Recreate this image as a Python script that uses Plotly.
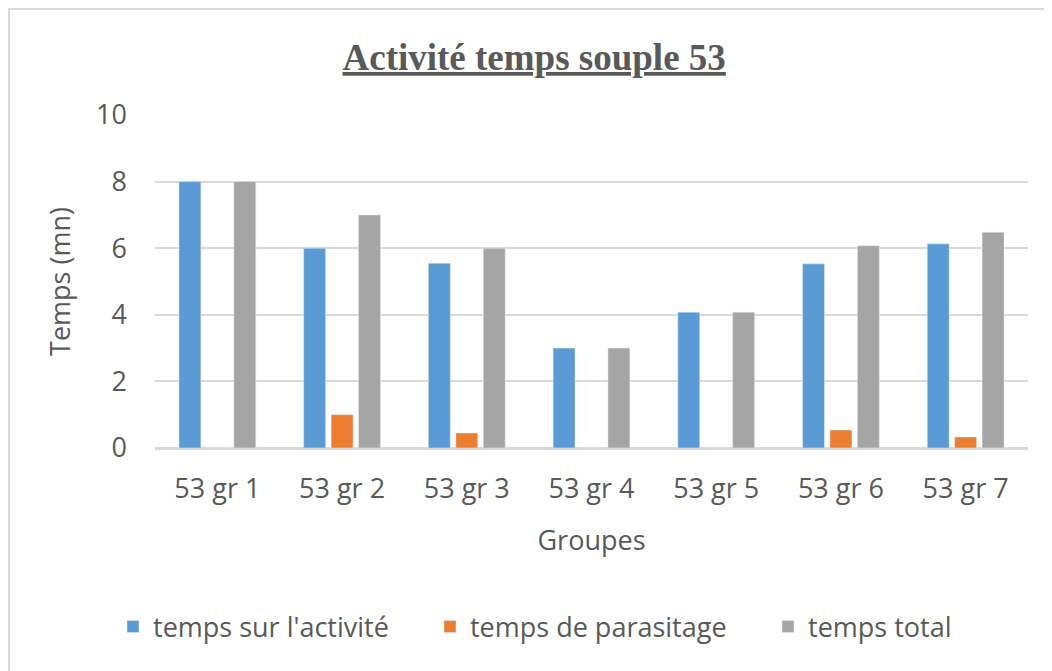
import plotly.graph_objects as go

# Données
groupes = ["53 gr 1", "53 gr 2", "53 gr 3", "53 gr 4", "53 gr 5", "53 gr 6", "53 gr 7"]
temps_activite = [8, 6, 5.55, 3, 4.08, 5.53, 6.13]
temps_parasitage = [0, 1, 0.45, 0, 0, 0.54, 0.33]
temps_total = [8, 7, 6, 3, 4.08, 6.07, 6.48]

GRIS_TEXTE = "#595959"
POLICE = "Open Sans"
TAILLE = 27

# la page ajoute une marge de 8 px autour de la figure : on compense
fig = go.Figure()
fig.add_trace(go.Bar(x=groupes, y=temps_activite, name="temps sur l'activité",
                     marker=dict(color="#5b9bd5"), legend="legend"))
fig.add_trace(go.Bar(x=groupes, y=temps_parasitage, name="temps de parasitage",
                     marker=dict(color="#ed7d31"), legend="legend2"))
fig.add_trace(go.Bar(x=groupes, y=temps_total, name="temps total",
                     marker=dict(color="#a5a5a5"), legend="legend3"))

# une légende par série pour placer chaque entrée comme dans l'original
style_legende = dict(orientation="h", xanchor="left", y=-0.5375, yanchor="middle",
                     font=dict(size=TAILLE, color=GRIS_TEXTE), itemwidth=30,
                     bgcolor="rgba(0,0,0,0)")

fig.update_layout(
    width=1044, height=663,
    paper_bgcolor="white", plot_bgcolor="white",
    margin=dict(l=147, r=24, t=107, b=223),
    barmode="group", bargap=0.34, bargroupgap=0.2,
    font=dict(family=POLICE, size=TAILLE, color=GRIS_TEXTE),
    title=dict(
        text="<b><span style='text-decoration:underline'>Activité temps souple 53</span></b>",
        x=0.504, xanchor="center", y=0.926, yanchor="middle",
        font=dict(family="Liberation Serif", size=37, color=GRIS_TEXTE),
    ),
    legend=dict(x=-0.0481, **style_legende),
    legend2=dict(x=0.3150, **style_legende),
    legend3=dict(x=0.7022, **style_legende),
    showlegend=True,
)

fig.update_xaxes(title=dict(text="Groupes", font=dict(size=TAILLE), standoff=26),
                 showgrid=False, showline=True, linecolor="#d9d9d9", linewidth=1.5,
                 ticks="", ticklabelstandoff=16, tickfont=dict(size=TAILLE))
fig.update_yaxes(title=dict(text="Temps (mn)", font=dict(size=TAILLE), standoff=17),
                 range=[0, 10], dtick=2, showgrid=True, gridcolor="#d9d9d9",
                 gridwidth=1.5, zeroline=True, zerolinecolor="#d9d9d9",
                 zerolinewidth=1.5, showline=False, ticks="",
                 ticklabelstandoff=27, tickfont=dict(size=TAILLE))

# cadre autour du graphique
fig.add_shape(type="rect", xref="paper", yref="paper",
              x0=-0.1672, x1=1.08, y0=-0.70, y1=1.318,
              line=dict(color="#d9d9d9", width=2), layer="below")

fig.write_html("out.html")
